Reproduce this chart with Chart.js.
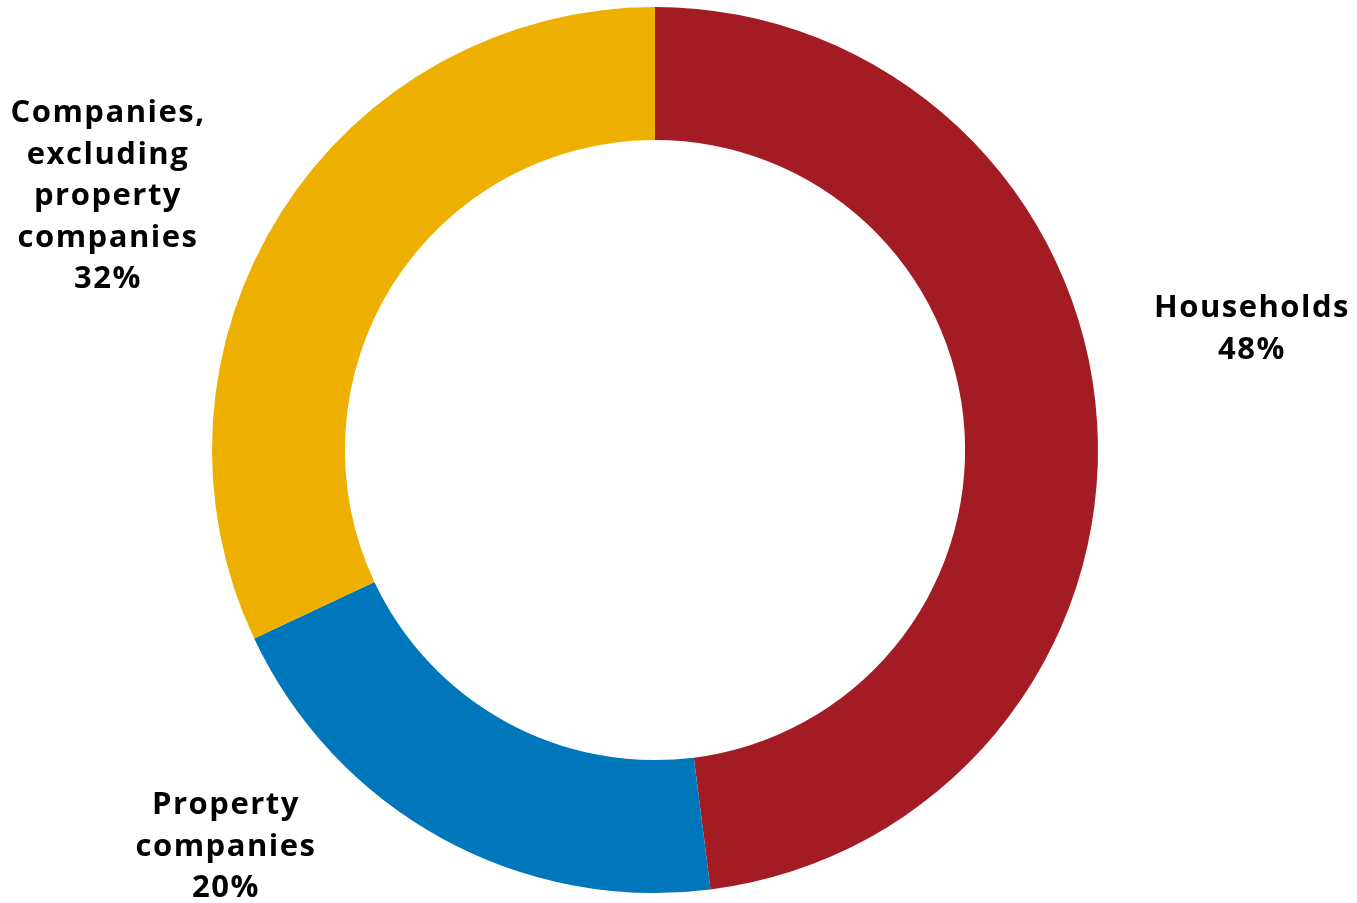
<!DOCTYPE html>
<html>
<head>
<meta charset="utf-8">
<title>Debt by borrower</title>
<script src="https://cdn.jsdelivr.net/npm/chart.js@4/dist/chart.umd.min.js"></script>
<style>
  html, body { margin: 0; padding: 0; background: #ffffff; }
  #wrap { width: 1357px; height: 903px; position: relative; }
</style>
</head>
<body>
<div id="wrap"><canvas id="chart"></canvas></div>
<script>
// categories and shares (%)
const categories = ["Households", "Property companies", "Companies, excluding property companies"];
const shares = [48, 20, 32];
const sliceColors = ["#A31C24", "#0076BB", "#EDB000"];

// label lines, one list per slice
const labelLines = [
  ["Households", "48%"],
  ["Property", "companies", "20%"],
  ["Companies,", "excluding", "property", "companies", "32%"]
];
// where each label's centre sits (x, first baseline) in canvas pixels
const labelAnchors = [
  [1252, 317],
  [226, 814],
  [108, 122]
];

const FONT = "bold 31px 'Open Sans', 'Noto Sans', sans-serif";
const LINE_H = 41.5;

// draws the multi-line category labels around the ring
const outsideLabels = {
  id: "outsideLabels",
  afterDraw(chart) {
    const ctx = chart.ctx;
    ctx.save();
    ctx.font = FONT;
    ctx.letterSpacing = "1.5px";
    ctx.fillStyle = "#000000";
    ctx.textAlign = "center";
    ctx.textBaseline = "alphabetic";
    labelLines.forEach((lines, i) => {
      const [x, y] = labelAnchors[i];
      lines.forEach((t, j) => ctx.fillText(t, x, y + j * LINE_H));
    });
    ctx.restore();
  }
};

new Chart(document.getElementById("chart"), {
  type: "doughnut",
  data: {
    labels: categories,
    datasets: [{
      data: shares,
      backgroundColor: sliceColors,
      borderWidth: 0
    }]
  },
  options: {
    responsive: true,
    maintainAspectRatio: false,
    animation: false,
    cutout: "70%",
    layout: { padding: { left: 0, right: 47, top: 7, bottom: 10 } },
    plugins: {
      legend: { display: false },
      tooltip: { enabled: false }
    }
  },
  plugins: [outsideLabels]
});
</script>
</body>
</html>
